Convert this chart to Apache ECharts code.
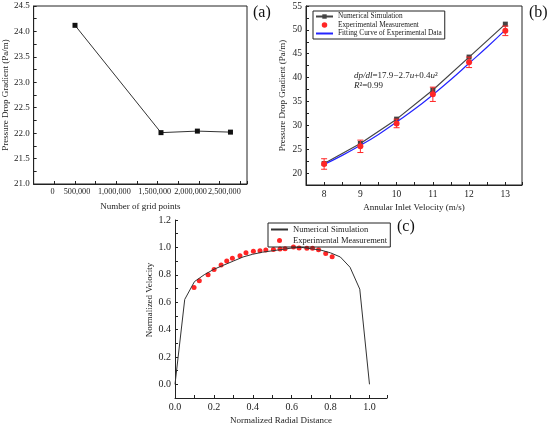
<!DOCTYPE html>
<html>
<head>
<meta charset="utf-8">
<script src="https://cdn.jsdelivr.net/npm/echarts@6/dist/echarts.min.js"></script>
<style>
  html, body { margin: 0; padding: 0; background: #fff; }
  #chart { width: 550px; height: 429px; }
</style>
</head>
<body>
<div id="chart"></div>
<script>
// (a) 网格无关性
var gridPoints = [500000, 1540000, 1980000, 2380000];
var gridDp = [24.12, 22.01, 22.04, 22.02];
var gridTicks = [0, 500000, 1000000, 1500000, 2000000, 2500000];
var gridTickLabels = ['0', '500,000', '1,000,000', '1,500,000', '2,000,000', '2,500,000'];

// (b) 压降梯度
var velocity = [8, 9, 10, 11, 12, 13];
var simDp = [22.0, 26.2, 31.3, 37.4, 44.3, 51.2];
var expDp = [21.9, 25.6, 30.4, 36.5, 43.2, 49.8];
var expErr = [1.1, 1.3, 0.9, 1.5, 1.1, 1.0];
var fitU = [8, 8.5, 9, 9.5, 10, 10.5, 11, 11.5, 12, 12.5, 13];
var fitDp = [21.8, 23.7, 25.8, 28.1, 30.7, 33.4, 36.4, 39.6, 43.0, 46.4, 50.0];

// (c) 速度分布
var simR = [0, 0.05, 0.1, 0.15, 0.2, 0.25, 0.3, 0.35, 0.4, 0.45, 0.5, 0.55, 0.6, 0.65, 0.7, 0.75, 0.8, 0.85, 0.9, 0.95, 1.0];
var simV = [0, 0.62, 0.75, 0.80, 0.84, 0.87, 0.90, 0.93, 0.95, 0.965, 0.975, 0.985, 0.995, 1.0, 0.99, 0.98, 0.96, 0.93, 0.855, 0.695, 0];
var expR = [0.098, 0.125, 0.17, 0.201, 0.237, 0.266, 0.295, 0.334, 0.365, 0.403, 0.437, 0.467, 0.506, 0.54, 0.566, 0.609, 0.638, 0.678, 0.707, 0.738, 0.775, 0.808];
var expV = [0.707, 0.756, 0.80, 0.839, 0.871, 0.90, 0.92, 0.939, 0.961, 0.971, 0.976, 0.98, 0.985, 0.988, 0.99, 1.002, 0.995, 0.993, 0.993, 0.983, 0.956, 0.932];

var FONT = 'Liberation Serif';
var INK = '#222';
var RED = '#ff2626';
var BLUE = '#2424ff';

// 标签在原图中挤在一起，按像素微调
var gridLabelShift = [19, 2, -2, -3, -8.5, -16];

function zip(a, b) {
    return a.map(function (v, i) { return [v, b[i]]; });
}
function onStep(v, step) {
    var k = v / step;
    return Math.abs(k - Math.round(k)) < 1e-6;
}

function baseAxis(gridIndex, name, gap, fontSize) {
    return {
        type: 'value',
        gridIndex: gridIndex,
        name: name,
        nameLocation: 'middle',
        nameGap: gap,
        nameTextStyle: { fontFamily: FONT, fontSize: 9, color: INK },
        axisLine: { show: true, onZero: false, lineStyle: { color: INK, width: 1 } },
        axisTick: { show: true, inside: true, length: 3, lineStyle: { color: INK } },
        splitLine: { show: false },
        axisLabel: { fontFamily: FONT, fontSize: fontSize, color: INK, margin: 4 }
    };
}

var chart = echarts.init(document.getElementById('chart'));

// x axis of (a)
var xa = baseAxis(0, 'Number of grid points', 18, 8.5);
xa.min = 0; xa.max = 2580000; xa.interval = 250000;
xa.axisLabel.rich = {};
gridLabelShift.forEach(function (s, i) {
    xa.axisLabel.rich['t' + i] = {
        fontFamily: FONT, fontSize: 8.2, color: INK,
        padding: s > 0 ? [0, 0, 0, 2 * s] : [0, -2 * s, 0, 0]
    };
});
xa.axisLabel.formatter = function (v) {
    var i = gridTicks.indexOf(v);
    if (i < 0) return '';
    return '{t' + i + '|' + gridTickLabels[i] + '}';
};

var ya = baseAxis(0, 'Pressure Drop Gradient (Pa/m)', 21, 9);
ya.min = 21; ya.max = 24.5; ya.interval = 0.25;
ya.axisLabel.formatter = function (v) { return onStep(v, 0.5) ? v.toFixed(1) : ''; };

// (b)
var xb = baseAxis(1, 'Annular Inlet Velocity (m/s)', 18, 9.5);
xb.min = 7.5; xb.max = 13.46; xb.interval = 0.5;
xb.axisLabel.formatter = function (v) { return onStep(v, 1) ? String(v) : ''; };

var yb = baseAxis(1, 'Pressure Drop Gradient (Pa/m)', 19, 9.5);
yb.min = 17.5; yb.max = 55; yb.interval = 2.5;
yb.axisLabel.formatter = function (v) { return onStep(v, 5) ? String(v) : ''; };

// (c)
var xc = baseAxis(2, 'Normalized Radial Distance', 18, 10);
xc.min = 0; xc.max = 1.09; xc.interval = 0.1;
xc.axisLabel.formatter = function (v) { return onStep(v, 0.2) && v <= 1.0001 ? v.toFixed(1) : ''; };

var yc = baseAxis(2, 'Normalized Velocity', 19, 10);
yc.min = -0.1; yc.max = 1.2; yc.interval = 0.1;
yc.nameTextStyle.padding = [0, 0, 0, 18];
yc.axisLabel.formatter = function (v) { return onStep(v, 0.2) && v > -0.05 ? v.toFixed(1) : ''; };

var errData = velocity.map(function (u, i) {
    return [u, expDp[i] - expErr[i], expDp[i] + expErr[i]];
});

var lineOnly = { opacity: 0 };

option = {
    backgroundColor: '#fff',
    animation: false,
    grid: [
        { left: 32, top: 6, width: 215, height: 178, show: true, borderColor: INK, borderWidth: 1 },
        { left: 306, top: 6, width: 216, height: 179, show: true, borderColor: INK, borderWidth: 1 },
        { left: 175, top: 220, width: 212, height: 178 }
    ],
    xAxis: [xa, xb, xc],
    yAxis: [ya, yb, yc],
    legend: [
        {
            data: [
                { name: 'Numerical Simulation' },
                { name: 'Experimental Measurement' },
                { name: 'Fitting Curve of Experimental Data', itemStyle: lineOnly }
            ],
            left: 313, top: 11, orient: 'vertical',
            borderColor: INK, borderWidth: 1, borderRadius: 0,
            padding: [2, 3, 2, 2], itemGap: 1.5, itemWidth: 17, itemHeight: 5.5,
            textStyle: { fontFamily: FONT, fontSize: 7.3, color: INK },
            selectedMode: false
        },
        {
            data: [
                { name: 'Numerical Simulation ', itemStyle: lineOnly },
                { name: 'Experimental Measurement ' }
            ],
            left: 268, top: 223, orient: 'vertical',
            borderColor: INK, borderWidth: 1, borderRadius: 0,
            padding: [2, 1, 2, 2], itemGap: 2, itemWidth: 17, itemHeight: 5,
            textStyle: { fontFamily: FONT, fontSize: 8.5, color: INK },
            selectedMode: false
        }
    ],
    series: [
        {
            name: 'grid', type: 'line', xAxisIndex: 0, yAxisIndex: 0,
            data: zip(gridPoints, gridDp),
            symbol: 'rect', symbolSize: 5,
            lineStyle: { color: '#333', width: 1 },
            itemStyle: { color: '#111' }
        },
        {
            name: 'Numerical Simulation', type: 'line', xAxisIndex: 1, yAxisIndex: 1,
            data: zip(velocity, simDp),
            symbol: 'rect', symbolSize: 5,
            lineStyle: { color: '#444', width: 1.2 },
            itemStyle: { color: '#444' },
            z: 3
        },
        {
            name: 'errorbar', type: 'custom', xAxisIndex: 1, yAxisIndex: 1,
            data: errData,
            encode: { x: 0, y: [1, 2] },
            renderItem: function (params, api) {
                var lo = api.coord([api.value(0), api.value(1)]);
                var hi = api.coord([api.value(0), api.value(2)]);
                var st = { stroke: RED, lineWidth: 1 };
                return {
                    type: 'group',
                    children: [
                        { type: 'line', shape: { x1: lo[0], y1: lo[1], x2: hi[0], y2: hi[1] }, style: st },
                        { type: 'line', shape: { x1: lo[0] - 3, y1: lo[1], x2: lo[0] + 3, y2: lo[1] }, style: st },
                        { type: 'line', shape: { x1: hi[0] - 3, y1: hi[1], x2: hi[0] + 3, y2: hi[1] }, style: st }
                    ]
                };
            },
            z: 4
        },
        {
            name: 'Experimental Measurement', type: 'scatter', xAxisIndex: 1, yAxisIndex: 1,
            data: zip(velocity, expDp),
            symbol: 'circle', symbolSize: 6,
            itemStyle: { color: RED, opacity: 1 },
            z: 5
        },
        {
            name: 'Fitting Curve of Experimental Data', type: 'line', xAxisIndex: 1, yAxisIndex: 1,
            data: zip(fitU, fitDp),
            smooth: true, symbol: 'none',
            lineStyle: { color: BLUE, width: 1.2 },
            itemStyle: { color: BLUE },
            z: 4
        },
        {
            name: 'Numerical Simulation ', type: 'line', xAxisIndex: 2, yAxisIndex: 2,
            data: zip(simR, simV),
            symbol: 'none',
            lineStyle: { color: '#333', width: 1 },
            itemStyle: { color: '#333' }
        },
        {
            name: 'Experimental Measurement ', type: 'scatter', xAxisIndex: 2, yAxisIndex: 2,
            data: zip(expR, expV),
            symbol: 'circle', symbolSize: 5,
            itemStyle: { color: RED, opacity: 1 }
        }
    ],
    graphic: [
        { type: 'text', left: 253, top: 5, style: { text: '(a)', font: '16px ' + FONT, fill: '#111' } },
        { type: 'text', left: 529, top: 5, style: { text: '(b)', font: '16px ' + FONT, fill: '#111' } },
        { type: 'text', left: 397, top: 219, style: { text: '(c)', font: '16px ' + FONT, fill: '#111' } },
        {
            type: 'text', left: 354, top: 71,
            style: {
                text: '{i|dp/dl}=17.9\u22122.7{i|u}+0.4{i|u}\u00b2',
                font: '9px ' + FONT, fill: INK,
                rich: { i: { fontFamily: FONT, fontSize: 9, fontStyle: 'italic', color: INK } }
            }
        },
        {
            type: 'text', left: 354, top: 81,
            style: {
                text: '{i|R}\u00b2=0.99',
                font: '9px ' + FONT, fill: INK,
                rich: { i: { fontFamily: FONT, fontSize: 9, fontStyle: 'italic', color: INK } }
            }
        }
    ]
};

chart.setOption(option);
</script>
</body>
</html>
